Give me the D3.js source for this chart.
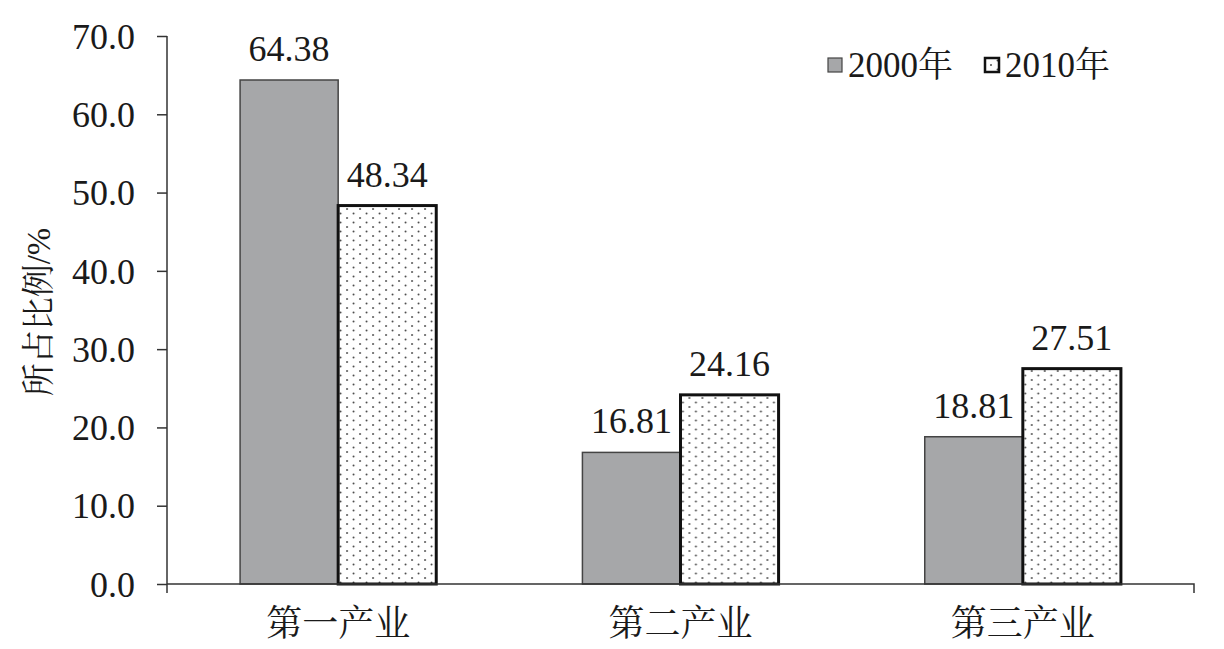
<!DOCTYPE html>
<html><head><meta charset="utf-8">
<script src="https://cdn.jsdelivr.net/npm/d3@7"></script>
<style>
html,body{margin:0;padding:0;background:#fff;}
</style></head>
<body><svg id="c" width="1224" height="649"></svg>
<script>
const categories = ["第一产业","第二产业","第三产业"];
const seriesNames = ["2000年","2010年"];
const values2000 = [64.38, 16.81, 18.81];
const values2010 = [48.34, 24.16, 27.51];
const yTicks = [0,10,20,30,40,50,60,70];
const yTitle = "所占比例/%";

const FONT = '"Liberation Serif", "Noto Serif CJK SC"';
const svg = d3.select("#c");
const L = 167, R = 1194, T = 36, B = 584;

const defs = svg.append("defs");
const pat = defs.append("pattern").attr("id","dots").attr("patternUnits","userSpaceOnUse")
  .attr("width",13).attr("height",9);
pat.append("rect").attr("width",13).attr("height",9).attr("fill","#fff");
pat.append("circle").attr("cx",3).attr("cy",2).attr("r",0.95).attr("fill","#444");
pat.append("circle").attr("cx",9.5).attr("cy",6.5).attr("r",0.95).attr("fill","#444");

const x0 = d3.scaleBand().domain(categories).range([L,R]).paddingInner(0.427).paddingOuter(0.2135);
const x1 = d3.scaleBand().domain(seriesNames).range([0,x0.bandwidth()]);
const y = d3.scaleLinear().domain([0,70]).range([B,T]);

const data = categories.map((c,i)=>({cat:c, vals:[{s:seriesNames[0],v:values2000[i]},{s:seriesNames[1],v:values2010[i]}]}));

// y axis
const yAxis = d3.axisLeft(y).tickValues(yTicks).tickFormat(d3.format(".1f")).tickSize(10).tickPadding(22);
const ya = svg.append("g").attr("transform",`translate(${L},0)`).call(yAxis);
ya.attr("font-family",FONT);
ya.select(".domain").attr("stroke","#333").attr("stroke-width",1.5).attr("d",`M0,${T}V${B+9}`);
ya.selectAll(".tick line").attr("stroke","#333").attr("stroke-width",1.5);
ya.selectAll(".tick text").style("font-family",FONT).style("font-size","36px").attr("fill","#1a1a1a").attr("dy","0.34em");

// bars
const g = svg.append("g");
const grp = g.selectAll("g.grp").data(data).join("g").attr("transform",d=>`translate(${x0(d.cat)},0)`);
grp.selectAll("rect").data(d=>d.vals).join("rect")
  .attr("x",d=>x1(d.s)).attr("width",x1.bandwidth())
  .attr("y",d=>y(d.v)).attr("height",d=>y(0)-y(d.v))
  .attr("fill",(d,i)=>i===0?"#a6a7a9":"url(#dots)")
  .attr("stroke",(d,i)=>i===0?"#444":"#111")
  .attr("stroke-width",(d,i)=>i===0?1.5:3);
grp.selectAll("text").data(d=>d.vals).join("text")
  .attr("x",d=>x1(d.s)+x1.bandwidth()/2).attr("y",d=>y(d.v)-19)
  .attr("text-anchor","middle").style("font-family",FONT).style("font-size","36px").attr("fill","#1a1a1a")
  .text(d=>d.v.toFixed(2));

// x axis
const xAxis = d3.axisBottom(x0).tickSize(0).tickPadding(26);
const xa = svg.append("g").attr("transform",`translate(0,${B})`).call(xAxis);
xa.attr("font-family",FONT);
xa.select(".domain").attr("stroke","#333").attr("stroke-width",1.5).attr("d",`M${L},0H${R}V9`);
xa.selectAll(".tick text").style("font-family",FONT).style("font-size","36px").attr("fill","#1a1a1a").attr("dy","0.71em");

// y title
svg.append("text").attr("transform","translate(50,312) rotate(-90)").attr("text-anchor","middle")
  .style("font-family",FONT).style("font-size","33px").attr("fill","#1a1a1a").text(yTitle);

// legend
const leg = svg.append("g");
const legX = [828, 985];
seriesNames.forEach((s,i)=>{
  leg.append("rect").attr("x",legX[i]).attr("y",58).attr("width",14).attr("height",14)
    .attr("fill",i===0?"#a6a7a9":"url(#dots)").attr("stroke",i===0?"#444":"#111").attr("stroke-width",i===0?1.2:2.5);
  leg.append("text").attr("x",legX[i]+20).attr("y",77).style("font-family",FONT).style("font-size","35px")
    .attr("fill","#1a1a1a").text(s);
});
</script></body></html>
